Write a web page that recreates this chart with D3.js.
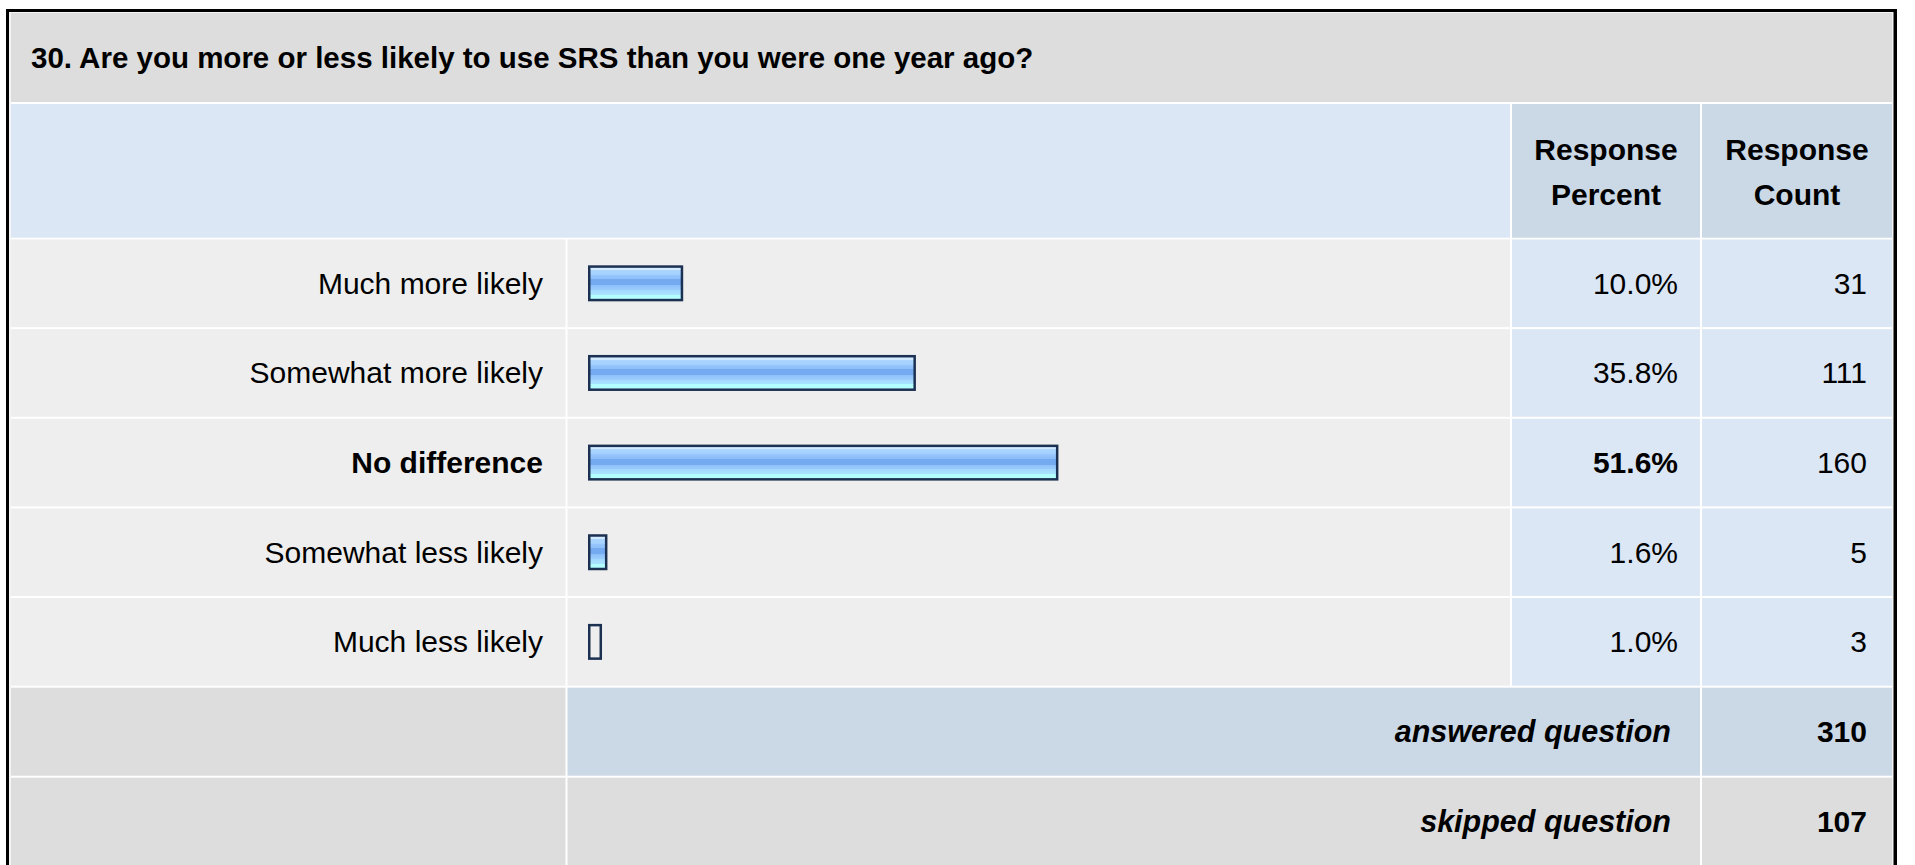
<!DOCTYPE html>
<html>
<head>
<meta charset="utf-8">
<script src="https://cdn.jsdelivr.net/npm/d3@7"></script>
<style>
  html, body { margin: 0; padding: 0; background: #ffffff; }
  svg { display: block; }
  text { font-family: "Liberation Sans", Arial, Helvetica, sans-serif; fill: #000; }
</style>
</head>
<body>
<svg id="chart" width="1915" height="865"></svg>
<script>
// ---- data ----
const title = "30. Are you more or less likely to use SRS than you were one year ago?";
const categories = ["Much more likely", "Somewhat more likely", "No difference", "Somewhat less likely", "Much less likely"];
const percents = [10.0, 35.8, 51.6, 1.6, 1.0];
const counts = [31, 111, 160, 5, 3];
const headerPercent = ["Response", "Percent"];
const headerCount = ["Response", "Count"];
const summaryLabels = ["answered question", "skipped question"];
const summaryValues = [310, 107];

// ---- layout ----
const svg = d3.select("#chart");
const W = 1915, H = 865;
const FS = 30;
const colGray = "#dddddd", colRow = "#eeeeee", colLightBlue = "#dce7f5", colBlueGray = "#cbd8e6";

const L = 11, R = 1892;
const labelR = 565.5, barL = 567.5, pctL = 1512, pctR = 1700, cntL = 1702;

// outer border
svg.append("rect").attr("x", 6).attr("y", 9).attr("width", 1897 - 6).attr("height", H + 20).attr("fill", "#000");
svg.append("rect").attr("x", 9).attr("y", 12).attr("width", 1893.5 - 9).attr("height", H + 20).attr("fill", "#f4f4f4");
svg.append("rect").attr("x", L).attr("y", 13).attr("width", R - L).attr("height", H + 20).attr("fill", "#ffffff");

// defs: bar gradient
const defs = svg.append("defs");
const grad = defs.append("linearGradient").attr("id", "barGrad").attr("x1", 0).attr("y1", 0).attr("x2", 0).attr("y2", 1);
[
  [0, "#d2eaff"], [0.10, "#d2eaff"], [0.10, "#add6ff"], [0.25, "#a2d0ff"], [0.25, "#97c7fc"],
  [0.38, "#8cbdf8"], [0.38, "#74aaf0"], [0.56, "#74aaf0"], [0.56, "#8dc0f9"], [0.70, "#9ccdfe"],
  [0.70, "#a3d8ff"], [0.84, "#a8e4ff"], [0.84, "#b3ffff"], [1, "#b3ffff"]
].forEach(([o, c]) => grad.append("stop").attr("offset", o).attr("stop-color", c));

// title band
svg.append("rect").attr("x", L).attr("y", 13).attr("width", R - L).attr("height", 102 - 13).attr("fill", colGray);
svg.append("text").attr("x", 31).attr("y", 57.5).attr("dy", "0.35em")
  .attr("font-size", 29.5).attr("font-weight", "bold").text(title);

// header band
const hTop = 104, hBot = 237.7;
svg.append("rect").attr("x", L).attr("y", hTop).attr("width", 1510 - L).attr("height", hBot - hTop).attr("fill", colLightBlue);
svg.append("rect").attr("x", pctL).attr("y", hTop).attr("width", pctR - pctL).attr("height", hBot - hTop).attr("fill", colBlueGray);
svg.append("rect").attr("x", cntL).attr("y", hTop).attr("width", R - cntL).attr("height", hBot - hTop).attr("fill", colBlueGray);
[[headerPercent, (pctL + pctR) / 2], [headerCount, (cntL + R) / 2]].forEach(([lines, cx]) => {
  const t = svg.append("text").attr("text-anchor", "middle").attr("font-size", FS).attr("font-weight", "bold");
  lines.forEach((s, i) => t.append("tspan").attr("x", cx).attr("y", 160 + i * 45).text(s));
});

// scales
const y = d3.scaleBand().domain(categories).range([239.5, 685.7]).paddingInner(2 / 89.7).paddingOuter(0);
const x = d3.scaleLinear().domain([0, 100]).range([0, 902]);
const maxP = d3.max(percents);

const rows = svg.append("g").selectAll("g").data(categories).join("g")
  .attr("transform", d => `translate(0,${y(d)})`);
const bw = y.bandwidth();

rows.append("rect").attr("x", L).attr("width", labelR - L).attr("height", bw).attr("fill", colRow);
rows.append("rect").attr("x", barL).attr("width", 1510 - barL).attr("height", bw).attr("fill", colRow);
rows.append("rect").attr("x", pctL).attr("width", pctR - pctL).attr("height", bw).attr("fill", colLightBlue);
rows.append("rect").attr("x", cntL).attr("width", R - cntL).attr("height", bw).attr("fill", colLightBlue);

rows.append("text").attr("x", 543).attr("y", bw / 2).attr("dy", "0.35em").attr("text-anchor", "end")
  .attr("font-size", FS).attr("font-weight", (d, i) => percents[i] === maxP ? "bold" : "normal").text(d => d);

// bars
const barH = 36, bs = 2.5, barX = 588;
rows.append("rect")
  .attr("x", barX + bs / 2).attr("y", bw / 2 - barH / 2 + bs / 2)
  .attr("width", (d, i) => x(percents[i]) + bs)
  .attr("height", barH - bs)
  .attr("fill", (d, i) => x(percents[i]) < 10 ? colRow : "url(#barGrad)")
  .attr("stroke", "#1c3152").attr("stroke-width", bs);

rows.append("text").attr("x", 1678).attr("y", bw / 2).attr("dy", "0.35em").attr("text-anchor", "end")
  .attr("font-size", FS).attr("font-weight", (d, i) => percents[i] === maxP ? "bold" : "normal")
  .text((d, i) => percents[i].toFixed(1) + "%");
rows.append("text").attr("x", 1867).attr("y", bw / 2).attr("dy", "0.35em").attr("text-anchor", "end")
  .attr("font-size", FS).text((d, i) => counts[i]);

// summary rows
const sumTops = [687.7, 777.7], sumH = 88;
summaryLabels.forEach((lab, i) => {
  const top = sumTops[i];
  const h = i === 1 ? H + 20 - top : sumH;
  const midCol = i === 0 ? colBlueGray : colGray;
  svg.append("rect").attr("x", L).attr("y", top).attr("width", labelR - L).attr("height", h).attr("fill", colGray);
  svg.append("rect").attr("x", barL).attr("y", top).attr("width", pctR - barL).attr("height", h).attr("fill", midCol);
  svg.append("rect").attr("x", cntL).attr("y", top).attr("width", R - cntL).attr("height", h).attr("fill", midCol);
  svg.append("text").attr("x", 1671).attr("y", top + sumH / 2).attr("dy", "0.35em").attr("text-anchor", "end")
    .attr("font-size", 30.5).attr("font-weight", "bold").attr("font-style", "italic").text(lab);
  svg.append("text").attr("x", 1867).attr("y", top + sumH / 2).attr("dy", "0.35em").attr("text-anchor", "end")
    .attr("font-size", FS).attr("font-weight", "bold").text(summaryValues[i]);
});
</script>
</body>
</html>
